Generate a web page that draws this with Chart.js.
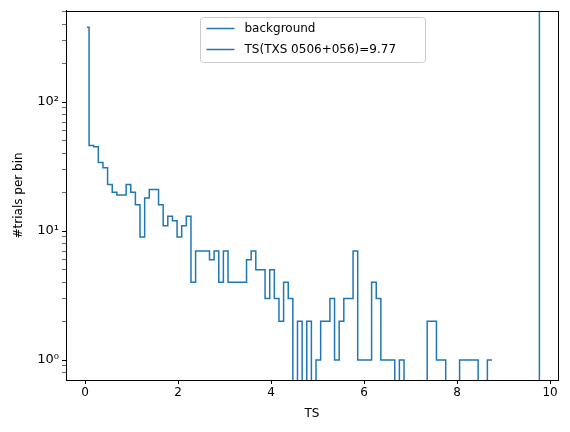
<!DOCTYPE html>
<html><head><meta charset="utf-8">
<script src="https://cdn.jsdelivr.net/npm/chart.js@4"></script>
<style>body{margin:0;background:#fff}#w{width:570px;height:432px}</style></head>
<body><div id="w"><canvas id="c"></canvas></div>
<script>
const binCounts = [380,46,45,34,31,23,20,19,19,23,20,16,9,18,21,21,16,11,13,12,9,11,13,4,7,7,7,6,7,4,7,4,4,4,4,6,7,5,5,3,5,3,2,4,3,0,2,0,2,0,1,2,2,3,1,2,3,3,7,1,1,1,4,3,1,1,1,0,1,0,0,0,0,0,2,2,1,1,0,0,0,1,1,1,1,0,0,1];
const firstEdge = 0.04, secondEdge = 0.086, binWidth = 0.0996;
const observedTS = 9.77;
const xTicks = [0,2,4,6,8,10];
const yMajor = [1,10,100];
const labels = ['background','TS(TXS 0506+056)=9.77'];

const FLOOR = 0.01;
const edges = [firstEdge];
for (let k = 0; k < binCounts.length; k++) edges.push(secondEdge + binWidth * k);
const pts = [];
binCounts.forEach((v, i) => {
  const y = v > 0 ? v : FLOOR;
  pts.push({x: edges[i], y}); pts.push({x: edges[i+1], y});
});
const C = '#1f77b4';
const font = {family: 'DejaVu Sans', size: 12};

const frame = {id:'frame', afterDraw(ch){const a=ch.chartArea,c=ch.ctx;c.save();c.strokeStyle='#000';c.lineWidth=1;
  c.strokeRect(Math.round(a.left)+0.5,Math.round(a.top)+0.5,Math.round(a.right-a.left),Math.round(a.bottom-a.top));
  const x0=200.5,y0=17.5,w=225,h=45;c.fillStyle='rgba(255,255,255,0.8)';c.strokeStyle='#ccc';
  c.beginPath();c.roundRect(x0,y0,w,h,3);c.fill();c.stroke();
  c.font='12px DejaVu Sans';c.fillStyle='#000';c.textBaseline='middle';
  labels.forEach((t,i)=>{const yy=y0+11+i*21;c.strokeStyle=C;c.lineWidth=1.5;c.beginPath();c.moveTo(x0+6,yy);c.lineTo(x0+34,yy);c.stroke();c.fillText(t,x0+44,yy);});
  c.restore();}};

new Chart(document.getElementById('c'), {
  type: 'line',
  data: {datasets: [
    {label: labels[0], data: pts, borderColor: C, borderWidth: 1.5, pointRadius: 0, fill: false, tension: 0},
    {label: labels[1], data: [{x: observedTS, y: FLOOR}, {x: observedTS, y: 1e4}], borderColor: C, borderWidth: 1.5, pointRadius: 0}
  ]},
  options: {
    responsive: true, maintainAspectRatio: false, animation: false,
    layout: {padding: {top: 10, right: 12, left: 8, bottom: 7}},
    plugins: {legend: {display: false}, tooltip: {enabled: false}},
    scales: {
      x: {type: 'linear', min: -0.41, max: 10.17,
        afterFit(s){s.height = 45;},
        afterBuildTicks(s){s.ticks = xTicks.map(v => ({value: v}));},
        ticks: {color: '#000', font, padding: 2, maxRotation: 0},
        grid: {drawOnChartArea: false, tickLength: 4, color: '#000'},
        border: {color: '#000'},
        title: {display: true, text: 'TS', color: '#000', font, padding: {top: 0}}},
      y: {type: 'logarithmic', min: 0.727, max: 510,
        afterFit(s){s.width = 58;},
        afterBuildTicks(s){const t=[];for(let e=-1;e<3;e++)for(let m=1;m<10;m++){const v=m*Math.pow(10,e);if(v>=0.727&&v<=510)t.push({value:v});}s.ticks=t;},
        ticks: {color: '#000', font: {family: 'DejaVu Sans', size: 13}, padding: 3, autoSkip: false,
          callback: v => ({1:'10⁰',10:'10¹',100:'10²'})[Math.round(v*1000)/1000] || ''},
        grid: {drawOnChartArea: false, color: '#000', tickLength: 4,
          tickWidth: c => yMajor.includes(Math.round(c.tick.value*1000)/1000) ? 1 : 0.6},
        border: {color: '#000'},
        title: {display: true, text: '#trials per bin', color: '#000', font, padding: {bottom: 2}}}
    }
  },
  plugins: [frame]
});
</script></body></html>
